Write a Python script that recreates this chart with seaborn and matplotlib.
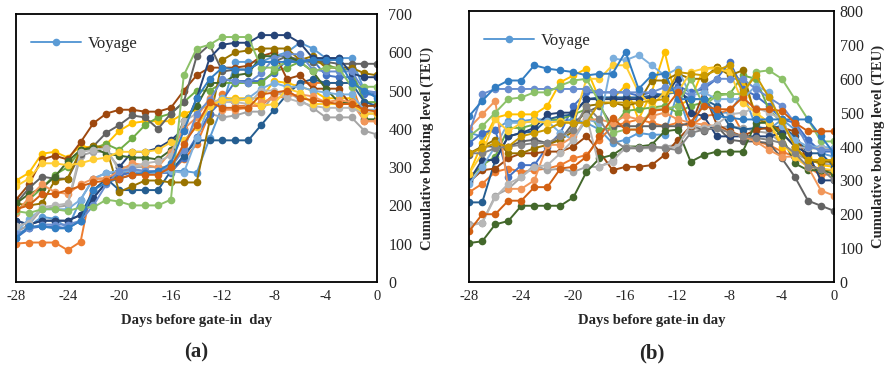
import numpy as np
import pandas as pd
import matplotlib
matplotlib.use("Agg")
import matplotlib.pyplot as plt
from matplotlib.lines import Line2D
import seaborn as sns

sns.set_style("white")
plt.rcParams['font.family'] = ['Liberation Serif', 'DejaVu Serif']
plt.rcParams['axes.unicode_minus'] = False

days = list(range(-28, 1))

# Excel-style series colours, in series order
colors = ['#5B9BD5', '#ED7D31', '#A5A5A5', '#FFC000', '#4472C4', '#70AD47',
          '#255E91', '#9E480E', '#636363', '#997300', '#264478', '#43682B',
          '#7CAFDD', '#F1975A', '#B7B7B7', '#FFCD33', '#698ED0', '#8CC168',
          '#327DC2', '#D26012', '#848484', '#CC9A00']

# panel (a): cumulative bookings per voyage (TEU)
a01 = [135, 145, 170, 165, 140, 215, 270, 285, 285, 290, 290, 290, 290, 290, 285, 375, 460, 575, 575, 575, 590, 600, 625, 610, 585, 585, 585, 500, 490]
a02 = [100, 103, 103, 103, 83, 105, 270, 270, 275, 290, 290, 290, 290, 320, 360, 440, 490, 460, 460, 460, 490, 500, 520, 520, 520, 520, 520, 420, 420]
a03 = [130, 150, 190, 195, 200, 330, 340, 340, 300, 300, 300, 300, 300, 350, 430, 440, 430, 435, 445, 445, 490, 500, 475, 455, 430, 430, 430, 395, 385]
a04 = [265, 285, 335, 340, 325, 355, 350, 360, 395, 415, 420, 420, 420, 440, 450, 460, 480, 480, 480, 480, 525, 520, 510, 500, 480, 480, 480, 440, 440]
a05 = [115, 140, 145, 145, 140, 160, 220, 260, 280, 285, 285, 285, 285, 325, 380, 440, 475, 525, 525, 525, 545, 580, 580, 580, 540, 535, 535, 490, 490]
a06 = [185, 215, 245, 280, 300, 345, 350, 360, 345, 375, 410, 430, 440, 470, 500, 500, 520, 520, 520, 520, 550, 560, 575, 575, 570, 555, 555, 470, 470]
a07 = [160, 150, 160, 160, 160, 175, 240, 270, 240, 240, 240, 240, 290, 330, 370, 370, 370, 370, 370, 410, 450, 490, 520, 530, 520, 520, 520, 470, 460]
a08 = [215, 255, 320, 330, 320, 365, 415, 440, 450, 450, 445, 445, 455, 500, 540, 560, 560, 560, 565, 590, 600, 530, 540, 505, 505, 505, 460, 460, 460]
a09 = [205, 245, 275, 270, 270, 335, 355, 390, 410, 435, 430, 400, 440, 470, 590, 620, 550, 555, 555, 575, 575, 590, 580, 575, 575, 570, 570, 570, 570]
a10 = [205, 200, 205, 265, 270, 345, 355, 350, 235, 250, 265, 265, 260, 260, 260, 420, 580, 600, 605, 610, 610, 610, 580, 590, 560, 560, 560, 545, 540]
a11 = [160, 150, 160, 160, 160, 175, 220, 260, 300, 340, 340, 350, 370, 400, 480, 585, 620, 625, 625, 645, 645, 645, 625, 585, 585, 585, 545, 535, 535]
a12 = [205, 230, 245, 275, 315, 345, 350, 335, 330, 325, 325, 320, 345, 420, 460, 520, 520, 540, 545, 590, 590, 590, 575, 550, 505, 470, 470, 425, 425]
a13 = [130, 165, 190, 190, 190, 215, 270, 285, 290, 290, 285, 285, 290, 285, 375, 465, 480, 475, 480, 505, 520, 510, 510, 500, 495, 490, 490, 450, 450]
a14 = [180, 220, 255, 235, 230, 255, 270, 270, 290, 310, 305, 300, 340, 400, 430, 480, 450, 450, 455, 470, 480, 485, 490, 485, 470, 475, 470, 420, 420]
a15 = [145, 155, 195, 200, 205, 340, 345, 350, 290, 300, 310, 315, 330, 420, 440, 475, 470, 470, 465, 500, 500, 480, 470, 460, 455, 455, 455, 440, 440]
a16 = [250, 270, 310, 310, 305, 310, 320, 325, 340, 340, 340, 345, 365, 370, 405, 460, 475, 475, 475, 460, 465, 505, 495, 465, 465, 465, 465, 440, 440]
a17 = [125, 140, 150, 150, 150, 160, 200, 255, 290, 295, 290, 290, 300, 345, 440, 475, 530, 525, 520, 545, 585, 595, 595, 555, 550, 550, 550, 500, 495]
a18 = [185, 180, 190, 190, 185, 195, 195, 215, 210, 200, 200, 200, 215, 540, 610, 620, 640, 640, 640, 560, 560, 575, 575, 550, 560, 560, 510, 510, 510]
a19 = [115, 145, 145, 140, 140, 160, 240, 260, 270, 280, 285, 290, 310, 395, 480, 530, 560, 555, 555, 575, 575, 575, 575, 580, 580, 580, 520, 500, 480]
a20 = [190, 200, 230, 230, 240, 250, 260, 265, 270, 280, 280, 280, 300, 360, 410, 470, 455, 455, 455, 490, 495, 500, 480, 475, 470, 465, 465, 450, 445]

# panel (b)
b01 = [440, 430, 450, 475, 475, 480, 480, 475, 480, 470, 450, 410, 420, 440, 435, 435, 560, 440, 540, 500, 500, 560, 460, 450, 480, 450, 420, 380, 370]
b02 = [265, 290, 325, 335, 325, 330, 335, 345, 365, 375, 420, 460, 470, 480, 470, 460, 470, 460, 490, 495, 510, 440, 415, 405, 385, 370, 340, 315, 320]
b03 = [170, 175, 255, 275, 310, 345, 330, 335, 325, 340, 340, 360, 395, 395, 395, 400, 405, 455, 450, 455, 460, 455, 445, 440, 410, 380, 360, 350, 345]
b04 = [320, 410, 485, 495, 495, 495, 520, 590, 610, 630, 540, 540, 580, 480, 560, 680, 520, 540, 630, 635, 625, 590, 500, 470, 400, 385, 370, 345, 340]
b05 = [410, 440, 450, 310, 345, 345, 400, 440, 520, 560, 560, 560, 560, 550, 560, 550, 580, 560, 570, 600, 650, 570, 550, 520, 480, 470, 420, 385, 385]
b06 = [305, 345, 370, 455, 455, 465, 480, 480, 495, 510, 450, 455, 505, 510, 515, 520, 500, 520, 530, 555, 555, 610, 600, 510, 470, 410, 395, 395, 395]
b07 = [235, 235, 360, 430, 440, 445, 480, 490, 495, 540, 545, 545, 545, 545, 550, 555, 560, 540, 540, 520, 460, 450, 455, 455, 460, 430, 380, 380, 340]
b08 = [295, 330, 335, 365, 380, 380, 385, 385, 400, 430, 385, 330, 340, 340, 345, 375, 420, 460, 560, 465, 445, 430, 450, 455, 455, 445, 350, 330, 330]
b09 = [375, 400, 400, 400, 415, 420, 410, 420, 470, 500, 520, 460, 460, 460, 460, 460, 460, 470, 445, 460, 420, 415, 415, 410, 365, 310, 240, 225, 210]
b10 = [380, 400, 420, 380, 380, 395, 405, 420, 445, 520, 525, 530, 520, 530, 595, 595, 615, 600, 600, 635, 610, 625, 480, 470, 440, 400, 355, 355, 355]
b11 = [300, 360, 360, 430, 440, 455, 495, 500, 500, 540, 540, 540, 540, 540, 545, 550, 600, 500, 490, 430, 430, 430, 430, 430, 440, 400, 380, 300, 300]
b12 = [115, 120, 170, 180, 225, 225, 225, 225, 250, 325, 365, 375, 400, 400, 405, 445, 450, 355, 375, 385, 385, 385, 470, 470, 430, 350, 330, 330, 320]
b13 = [290, 340, 400, 470, 470, 475, 475, 440, 420, 480, 470, 660, 655, 670, 640, 610, 630, 550, 560, 540, 540, 540, 580, 560, 460, 420, 400, 400, 395]
b14 = [455, 495, 535, 275, 275, 300, 405, 405, 430, 480, 480, 470, 490, 480, 490, 500, 480, 470, 465, 460, 440, 430, 415, 390, 370, 370, 340, 270, 255]
b15 = [165, 175, 250, 290, 310, 340, 345, 380, 420, 490, 340, 355, 400, 395, 400, 395, 400, 465, 455, 465, 495, 500, 515, 500, 480, 400, 395, 395, 390]
b16 = [320, 380, 480, 445, 470, 475, 470, 475, 470, 600, 600, 640, 640, 560, 520, 560, 560, 620, 630, 630, 620, 530, 500, 470, 410, 370, 340, 335, 330]
b17 = [440, 555, 570, 570, 570, 570, 570, 570, 570, 570, 560, 560, 560, 560, 560, 575, 570, 550, 580, 600, 600, 600, 570, 545, 520, 470, 400, 390, 390]
b18 = [430, 460, 500, 540, 545, 560, 560, 580, 595, 600, 530, 440, 450, 450, 510, 510, 520, 600, 520, 550, 555, 555, 620, 625, 600, 540, 480, 415, 415]
b19 = [490, 535, 575, 595, 595, 640, 630, 625, 620, 610, 615, 615, 680, 570, 610, 615, 540, 540, 540, 490, 485, 480, 480, 480, 480, 480, 480, 430, 380]
b20 = [150, 200, 200, 240, 240, 280, 280, 335, 340, 370, 430, 485, 450, 450, 505, 510, 560, 470, 520, 510, 510, 545, 510, 510, 505, 470, 445, 445, 445]
b21 = [380, 380, 395, 400, 405, 410, 410, 430, 450, 520, 480, 420, 395, 395, 400, 395, 390, 440, 450, 455, 440, 430, 425, 420, 410, 380, 340, 335, 300]
b22 = [380, 395, 410, 400, 430, 440, 450, 470, 470, 470, 530, 530, 530, 530, 535, 540, 620, 615, 610, 625, 640, 560, 610, 545, 475, 400, 360, 360, 360]

series_a = [a01, a02, a03, a04, a05, a06, a07, a08, a09, a10,
            a11, a12, a13, a14, a15, a16, a17, a18, a19, a20]
series_b = [b01, b02, b03, b04, b05, b06, b07, b08, b09, b10, b11,
            b12, b13, b14, b15, b16, b17, b18, b19, b20, b21, b22]


def to_long(series):
    rows = []
    for i, s in enumerate(series):
        for d, v in zip(days, s):
            rows.append({'day': d, 'teu': v, 'voyage': i})
    return pd.DataFrame(rows)


def draw_panel(ax, series, ymax, xlabel, tag, ypad):
    df = to_long(series)
    sns.lineplot(data=df, x='day', y='teu', hue='voyage',
                 palette=colors[:len(series)], marker='o', markersize=5.5,
                 markeredgewidth=0, linewidth=1.4, legend=False, ax=ax)
    ax.set_xlim(-28, 0)
    ax.set_ylim(0, ymax)
    ax.set_xticks(range(-28, 1, 4))
    ax.set_yticks(range(0, ymax + 1, 100))
    ax.yaxis.tick_right()
    ax.yaxis.set_label_position('right')
    ax.tick_params(axis='x', length=0, labelsize=10.5, pad=6)
    ax.tick_params(axis='y', length=0, labelsize=11.5, pad=ypad)
    ax.set_xlabel(xlabel, fontsize=10.5, fontweight='bold', labelpad=8)
    ax.set_ylabel('Cumulative booking level (TEU)', fontsize=10.5,
                  fontweight='bold', labelpad=6)
    for sp in ax.spines.values():
        sp.set_color('black')
        sp.set_linewidth(1.3)
    h = Line2D([], [], color=colors[0], marker='o', markersize=5.5,
               markeredgewidth=0, linewidth=1.4)
    ax.legend([h], ['Voyage'], loc='upper left', frameon=False,
              fontsize=12, bbox_to_anchor=(0.0, 0.975), handlelength=3,
              handletextpad=0.4)
    ax.text(0.5, -0.265, tag, transform=ax.transAxes, ha='center', va='center',
            fontsize=15, fontweight='bold')


fig = plt.figure(figsize=(8.92, 3.70), dpi=100)
ax1 = fig.add_axes([0.018, 0.238, 0.405, 0.724])
ax2 = fig.add_axes([0.526, 0.238, 0.409, 0.732])

draw_panel(ax1, series_a, 700, 'Days before gate-in  day', '(a)', 8)
draw_panel(ax2, series_b, 800, 'Days before gate-in day', '(b)', 4)

fig.savefig('out.png', dpi=100)
